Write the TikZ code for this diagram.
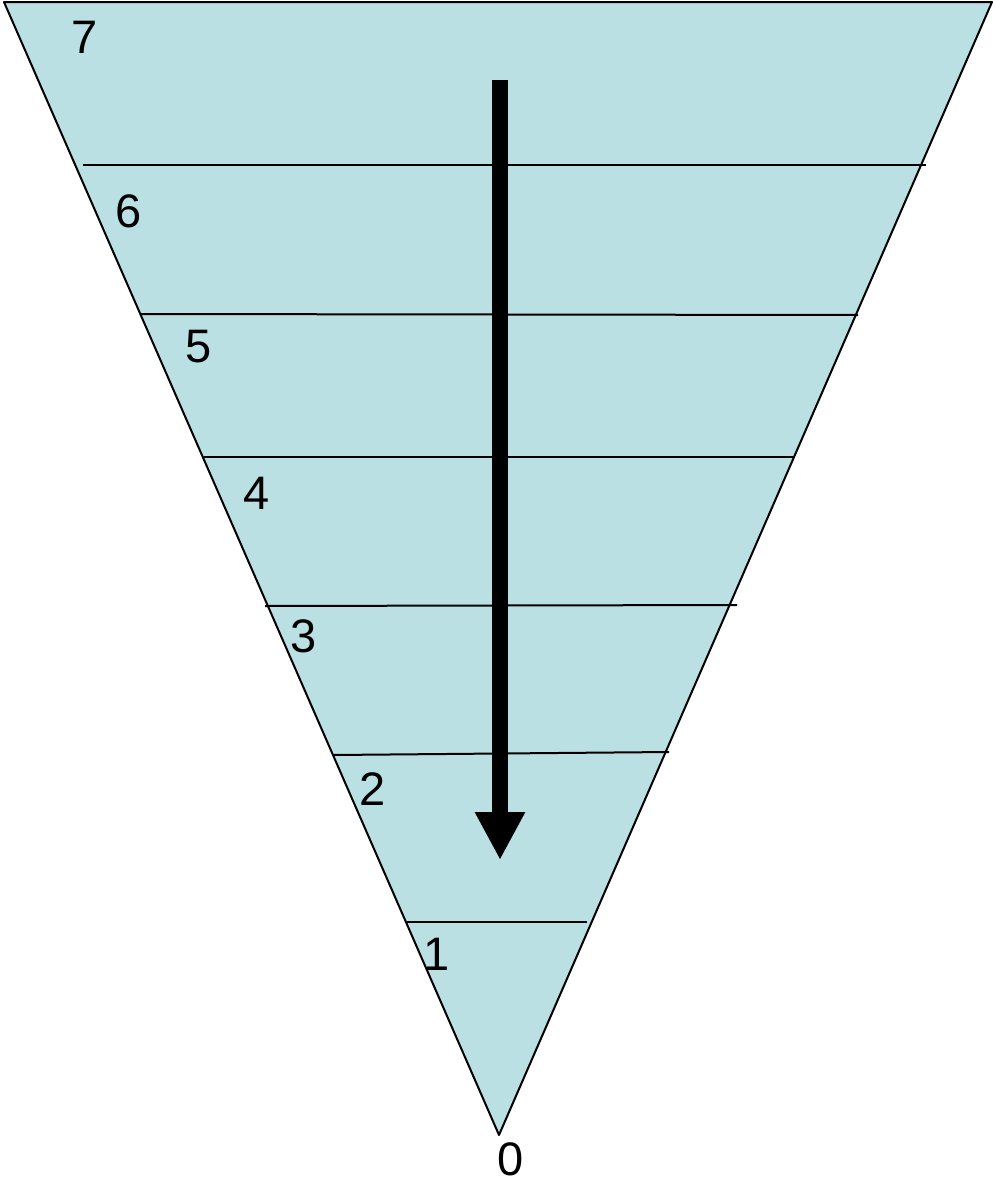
\documentclass[tikz,border=0pt]{standalone}
\usepackage{fontspec}
\setmainfont{Liberation Sans}
\usetikzlibrary{arrows.meta}
\definecolor{funnelblue}{RGB}{187,224,227}
\tikzset{
  level/.style={font=\fontsize{47}{56}\selectfont, inner sep=0pt},
  divider/.style={line width=2pt}
}
\begin{document}
\begin{tikzpicture}[x=1pt,y=-1pt]
  \useasboundingbox (0,0) rectangle (994,1183);
  \coordinate (tl) at (4,2);
  \coordinate (tr) at (992,2);
  \coordinate (bot) at (499,1135);
  \fill[funnelblue] (tl) -- (tr) -- (bot) -- cycle;
  \draw[line width=2pt, line join=round] (tl) -- (tr) -- (bot) -- cycle;
  % dividers between the levels
  \foreach \i/\xa/\ya/\xb/\yb in {6/83/165/926/165, 5/140/314/858/315, 4/204/457/795/457,
                                 3/265/606/737/605, 2/333/755/669/752, 1/407/922/587/922} {
      \coordinate (d\i a) at (\xa,\ya);
      \coordinate (d\i b) at (\xb,\yb);
      \draw[divider] (d\i a) -- (d\i b);
    }
  % level numbers
  \foreach \n/\x/\y in {7/85/37, 6/129/211, 5/199/347, 4/257/493, 3/304/636, 2/373/789, 1/437/954, 0/511/1159} {
      \node[level] (n\n) at (\x,\y) {\n};
    }
  \coordinate (astart) at (500,80);
  \coordinate (aend) at (500,860);
  \draw[line width=16pt, -{Triangle[width=47pt,length=48pt]}] (astart) -- (aend);
\end{tikzpicture}
\end{document}
